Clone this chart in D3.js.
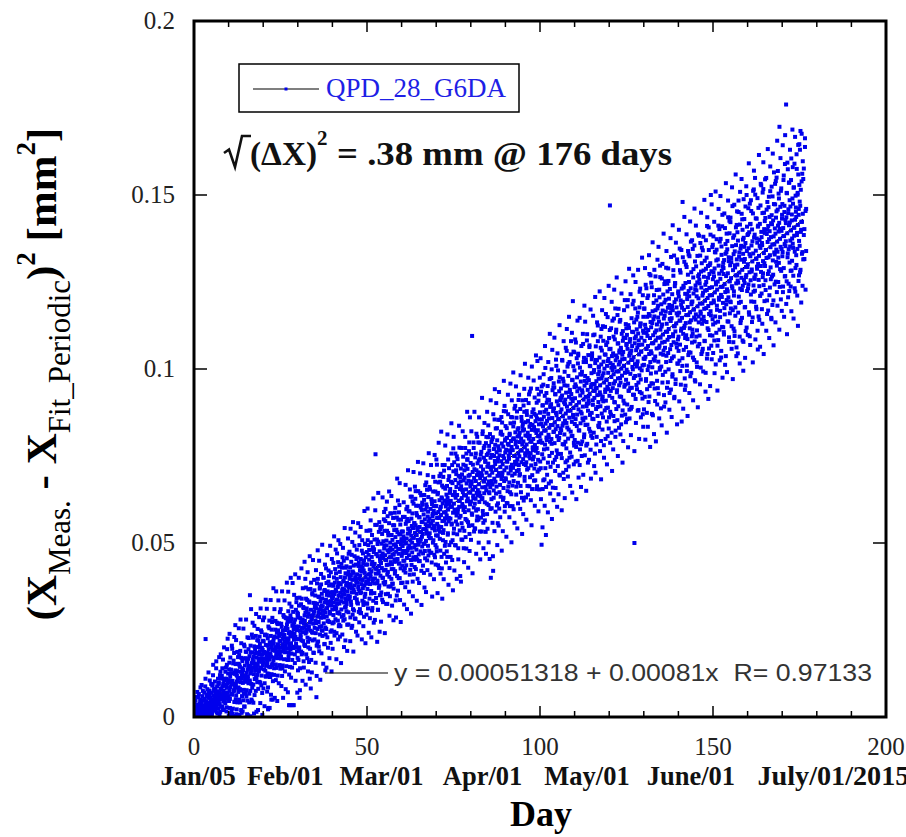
<!DOCTYPE html>
<html>
<head>
<meta charset="utf-8">
<script src="https://cdn.jsdelivr.net/npm/d3@7/dist/d3.min.js"></script>
<style>
  body { margin: 0; background: #fff; }
  svg { display: block; }
</style>
</head>
<body>
<svg id="chart"></svg>
<script>
// ---- data ----
const xTicks = [0, 50, 100, 150, 200];
const xMinorTicks = [10, 20, 30, 40, 60, 70, 80, 90, 110, 120, 130, 140, 160, 170, 180, 190];
const yTicks = [0, 0.05, 0.1, 0.15, 0.2];
const yTickLabels = ["0", "0.05", "0.1", "0.15", "0.2"];
const dateLabels = ["Jan/05", "Feb/01", "Mar/01", "Apr/01", "May/01", "June/01", "July/01/2015"];
const dateDays = [1.2, 26.4, 54.2, 83.4, 113.6, 143.6, 184.8];
const fitIntercept = 0.00051318;
const fitSlope = 0.00081;
const fitR = 0.97133;
const fitDays = [0, 176];
const seriesName = "QPD_28_G6DA";

// samples per day (index = day), units of 1e-4 mm^2 -- first pass
const dayValuesA = [
  "14 0 42 6 21 3 58 10 1 30 17 72",
  "35 8 0 19 66 4 27 12 49 85 22",
  "11 40 92 27 5 60 18 33 2 47 13 24 70",
  "52 19 7 110 37 26 3 64 14 80 31",
  "4 55 128 23 40 9 76 62 31 46 18 35 95",
  "70 33 12 50 95 21 150 42 28 80 58 46",
  "102 18 66 40 140 29 55 88 10 74 48",
  "25 45 98 172 71 36 58 15 130 82 64 52 110",
  "118 30 88 60 165 45 75 20 105 92 54 68",
  "40 62 142 110 28 84 195 96 70 125 55",
  "106 46 156 76 26 116 86 0 136 96 66 126",
  "64 104 24 154 94 74 184 44 124 84 134",
  "152 92 62 122 22 102 132 42 112 172 72 82 112",
  "50 150 110 80 190 100 130 20 170 120 60 140",
  "128 98 48 168 78 208 118 30 148 108 68 188",
  "107 187 77 127 157 47 137 117 167 97 227 147 67",
  "175 105 145 75 205 125 310 95 155 135 45 185 165",
  "143 93 173 123 203 63 153 183 133 233 113",
  "111 171 141 221 121 151 201 81 161 131 181 101 231",
  "189 99 159 139 249 169 119 199 69 179 149 219",
  "157 217 137 187 97 167 237 117 207 147 177",
  "235 155 185 125 205 85 26 175 195 145 255 165 215 115",
  "143 183 233 173 50 123 203 273 153 193 103 213 163",
  "211 121 231 171 191 251 151 201 181 141 271",
  "169 229 119 209 249 189 199 269 149 219 179 239 139",
  "218 168 268 188 238 118 208 148 248 228 198 288",
  "166 236 216 186 286 206 256 146 226 266 196",
  "254 214 164 304 224 184 34 244 204 284 144 234 194 274",
  "212 282 182 242 142 262 34 232 302 202 252 222 272",
  "240 180 280 230 260 210 330 200 250 300 170",
  "296 224 164 260 320 200 55 248 140 284 236 272 188",
  "220 340 256 184 280 244 316 160 268 208 292",
  "276 204 300 240 372 180 264 312 252 336 228 288 216",
  "200 296 260 332 224 110 272 368 248 308 164 284",
  "280 244 352 220 292 268 328 184 304 364 256 316",
  "349 277 241 313 57 205 325 289 253 397 217 301",
  "273 345 189 309 369 237 297 333 285 381 261 321 249",
  "341 233 317 293 401 269 305 209 365 329 257",
  "301 337 253 385 289 313 229 361 325 277 421 349",
  "405 273 321 297 357 213 333 381 249 345 309",
  "269 341 377 293 329 401 245 353 317 425 281 365",
  "361 313 241 397 325 337 373 277 445 301 349 385 265",
  "297 417 357 261 381 333 309 345 429 237 369",
  "353 389 293 449 329 365 281 401 341 413 317 377",
  "433 325 385 265 361 409 349 301 469 373 337 397",
  "346 430 286 382 406 322 370 466 358 262 394 418 310",
  "414 366 306 378 462 342 402 282 438 390 354",
  "338 410 386 458 326 374 434 302 398 494 362 422",
  "406 298 454 358 418 382 478 394 334 430 370 442 322",
  "330 450 378 414 498 354 402 438 390 294 474",
  "438 368 508 312 410 466 396 480 340 424 382 536",
  "404 502 362 418 460 306 446 390 488 334 432 474",
  "482 356 440 398 552 755 412 328 468 426 510 384",
  "392 462 308 504 420 532 434 378 476 350 448 406 546",
  "442 358 498 428 526 400 470 330 456 386 568 484",
  "493 381 465 563 423 353 451 507 437 535 325 479",
  "417 529 375 473 557 403 459 347 501 487 445 585",
  "397 523 439 383 481 467 551 425 369 495 537 453",
  "587 419 517 335 489 475 447 573 405 531 503 363",
  "567 469 441 525 609 399 483 553 427 497 385 511",
  "463 505 435 491 533 477 519 421 505 449 575 477",
  "499 415 555 471 597 513 457 387 569 527 485 541",
  "563 465 493 591 409 535 507 633 451 521 437 549",
  "501 585 389 543 459 613 515 487 557 431 529 627",
  "551 425 607 481 523 579 453 537 509 649 495 467",
  "448 574 546 504 644 476 602 532 420 560 518 616",
  "610 526 470 540 582 414 638 498 568 456 596 554",
  "506 674 534 604 450 548 576 492 632 562 520 478",
  "570 528 654 472 598 514 556 626 444 612 542 584",
  "564 648 508 592 550 466 620 536 676 494 606 522",
  "606 487 725 555 640 521 436 589 674 538 572 623",
  "512 597 478 699 580 546 631 427 665 563 614 529",
  "690 537 588 469 622 724 571 656 503 605 554 639",
  "579 664 460 630 528 596 681 562 715 494 613 647",
  "655 570 621 502 757 553 604 451 672 638 587 706",
  "528 613 732 596 647 494 681 630 562 698 579 749",
  "638 553 587 723 485 672 621 604 774 536 655 689",
  "578 714 663 510 629 697 612 544 646 748 595 680",
  "637 535 688 603 773 569 722 654 484 671 620 739",
  "713 628 560 679 594 764 645 526 696 611 662 730",
  "619 755 670 585 1095 551 704 653 636 789 602 687",
  "712 542 661 746 627 678 593 814 644 695 576 729",
  "652 703 567 737 669 618 788 533 686 635 754 720",
  "762 626 694 660 813 592 711 558 677 745 643 779",
  "617 685 736 532 787 651 702 753 583 719 668 804",
  "728 609 677 779 643 694 813 660 745 400 711 626",
  "600 753 702 668 804 420 719 651 770 685 855 736",
  "727 676 829 642 710 761 608 795 693 557 744 778",
  "769 701 599 752 854 667 718 633 820 735 684 786",
  "692 811 726 624 777 658 879 743 709 590 794 760",
  "836 683 768 717 615 802 734 649 785 870 700 751",
  "742 674 810 606 759 844 708 793 640 776 725 861",
  "665 767 716 835 597 801 750 886 699 733 818 784",
  "792 639 860 707 775 741 826 673 758 911 724 809",
  "749 817 698 885 664 766 800 732 851 630 783 834",
  "843 741 792 622 826 877 690 775 758 809 724 911",
  "732 783 868 766 664 817 851 715 902 800 749 834",
  "808 689 842 757 944 723 791 825 655 876 774 740",
  "799 884 748 833 714 918 782 680 850 765 867 816",
  "773 858 943 705 824 739 909 790 841 654 807 875",
  "875 795 715 935 815 495 855 755 895 655 835 955",
  "743 863 823 683 923 783 1003 843 523 883 803 903",
  "851 771 951 731 871 811 671 911 831 971 791 891",
  "719 839 899 799 999 759 859 939 659 879 819 959",
  "887 947 787 847 707 927 827 1027 747 867 907 807",
  "836 756 996 896 796 856 936 696 976 816 876 916",
  "944 824 884 744 924 1024 784 864 844 964 684 904",
  "812 992 852 912 732 872 932 772 1052 892 832 952",
  "880 800 980 720 920 860 1020 940 760 900 820 1080",
  "928 748 848 968 808 908 868 1008 888 788 1048 948",
  "796 916 956 856 1076 776 896 836 976 936 736 1016",
  "1044 884 824 904 944 724 1004 924 844 964 784 984",
  "872 992 792 932 892 1072 852 912 1032 812 952 752",
  "980 860 920 1020 780 960 900 1100 840 940 880 1040",
  "908 968 828 1068 928 868 1008 768 948 808 988 1028",
  "1037 857 957 897 1097 937 817 997 917 957 757 1017",
  "945 1065 885 965 805 1025 925 865 1125 985 905 1005",
  "833 993 1033 933 953 893 1093 793 1013 973 1053 913",
  "981 921 861 1081 1021 781 961 1001 881 1121 941 1041",
  "909 1069 969 849 1009 949 1149 889 989 1029 829 1089",
  "1057 957 1470 877 1017 937 1117 977 817 1037 917 997",
  "945 1045 865 985 1145 905 1005 1085 965 805 1025 1105",
  "1113 993 933 1033 853 1073 973 893 1173 1013 953 1053",
  "921 1021 1141 961 1061 841 1001 1101 981 1041 881 1081",
  "1049 909 1009 1169 949 1029 989 869 1089 1129 969 1069",
  "998 1098 898 1058 1198 958 1018 938 1118 1038 858 1078",
  "1086 986 1046 886 1026 1146 946 1066 1006 1186 926 1106",
  "1034 974 1134 500 1074 1014 1174 914 1094 1054 954 1114",
  "942 1062 1022 1162 1102 882 1082 1042 982 1222 1002 1122",
  "1130 970 1050 1090 930 1190 1070 1010 870 1110 1150 1030",
  "1012 1173 1081 920 1127 1035 1242 966 1058 1104 874 1150",
  "1204 997 1066 1112 905 1158 1043 1273 951 1089 1020 1135",
  "1051 1120 959 1235 1074 1005 1166 867 1097 1143 1028 1212",
  "1151 944 1105 1036 1266 1082 990 1197 1059 1128 898 1174",
  "1090 1182 1021 929 1136 1228 1067 998 1297 1113 1044 1159",
  "1007 1122 1260 1076 961 1168 1099 1214 1053 1145 892 1191",
  "1153 1061 992 1199 1107 1291 1038 1130 946 1245 1084 1176",
  "1046 1253 1115 1092 1184 931 1230 1161 1023 1138 1322 1069",
  "1146 1031 1215 985 1169 1100 1284 1077 1123 916 1192 1238",
  "1246 1108 970 1200 1131 1177 1062 1315 1016 1154 1085 1223",
  "1093 1208 1162 1024 1346 1070 1139 1277 955 1185 1116 1231",
  "1147 1009 1480 1193 1101 1239 1055 1170 1308 1124 940 1216",
  "1247 1132 1063 1155 1293 994 1201 1086 1178 1339 1040 1224",
  "1048 1209 1324 1117 1163 979 1232 1140 1278 1186 1094 1370",
  "1194 1102 1033 1263 1217 1171 1148 1355 1079 1309 964 1240",
  "1157 1295 1226 1019 1111 1249 1180 1065 1387 1203 1134 1272",
  "1257 1096 1188 1326 1165 1004 1280 1234 1142 1349 1050 1211",
  "1058 1219 1380 1150 1265 1173 1081 1311 1196 1242 989 1288",
  "1250 1135 1227 1411 1043 1204 1296 1181 1112 1342 1158 1273",
  "1212 1097 1304 1166 1500 1189 1281 1028 1235 1350 1143 1258",
  "1128 1381 1197 1266 1082 1289 1220 1151 1335 1013 1243 1312",
  "1343 1182 1228 1067 1251 1136 1412 1297 1205 1274 1113 1366",
  "1167 1259 1374 1213 1052 1328 1282 1121 1443 1236 1190 1305",
  "1290 1106 1313 1175 1244 1405 1221 1359 1037 1267 1336 1198",
  "1229 1344 1137 1275 1436 1206 1321 1091 1252 1390 1160 1298",
  "1422 1192 1261 1307 1123 1238 1353 1468 1169 1284 1077 1330",
  "1223 1384 1108 1338 1292 1177 1269 1407 1246 1062 1315 1453",
  "1300 1254 1369 1162 1484 1208 1323 1277 1093 1415 1231 1346",
  "1193 1354 1262 1446 1147 1285 1400 1239 1331 1078 1377 1308",
  "1431 1247 1316 1178 1362 1109 1293 1270 1500 1339 1224 1385",
  "1301 1232 1462 1347 1163 1393 1278 1094 1416 1324 1255 1485",
  "1194 1355 1286 1401 1309 1148 1447 1332 1240 1516 1378 1263",
  "1386 1225 1501 1271 1340 1179 1317 1432 1294 1363 1110 1409",
  "1302 1463 1256 1325 1141 1371 1417 1210 1348 1532 1279 1394",
  "1379 1172 1356 1448 1264 1310 1517 1241 1333 1402 1195 1425",
  "1296 1434 1227 1342 1549 1319 1388 1158 1480 1365 1273 1411",
  "1465 1281 1373 1212 1396 1327 1511 1350 1258 1419 1143 1442",
  "1266 1358 1496 1312 1427 1197 1381 1565 1335 1243 1404 1473",
  "1389 1251 1435 1343 1550 1297 1366 1182 1458 1412 1320 1504",
  "1305 1420 1696 1236 1374 1466 1351 1512 1282 1397 1167 1443",
  "1474 1336 1221 1405 1543 1290 1382 1451 1359 1589 1267 1428",
  "1367 1760 1436 1252 1505 1390 1321 1574 1206 1459 1344 1413",
  "1536 1306 1421 1352 1467 1237 1398 1605 1283 1444 1375 1490",
  "1360 1475 1268 1521 1406 1383 1590 1337 1429 1222 1498 1452",
  "1437 1299 1575 1391 1345 1506 1414 1644 1253 1460 1368 1529",
  "1354 1630 1469 1285 1515 1400 1423 1676 1331 1561 1239 1446",
  "1546 1385 1316 1638 1454 1339"
];

// second pass of samples per day, same units (the wider scatter)
const dayValuesB = [
  "2 25 9 48 0 16 5 33",
  "20 4 57 11 0 38 15 7 29",
  "8 44 0 26 75 16 3 52",
  "33 12 88 224 4 45 21 60 9 38",
  "17 70 40 2 105 28 55 12",
  "48 8 90 36 120 20 62 30 75",
  "24 82 50 160 14 66 38 110",
  "95 40 66 8 120 52 180 30 78",
  "58 140 22 96 70 200 44 110",
  "130 52 88 16 150 70 225 100 60",
  "4 137 239 52 171 10 103 18 205",
  "196 9 94 3 162 77 230 43 128 264",
  "51 221 8 119 187 0 153 85 255",
  "178 6 144 42 280 76 212 12 110 161",
  "16 135 254 67 30 203 118 101 169",
  "280 59 161 8 229 110 5 195 144 42",
  "101 350 2 186 135 50 237 84 271",
  "228 41 160 10 262 109 194 143 75 296",
  "15 185 100 253 20 219 134 287 168",
  "210 40 312 142 91 244 159 6 193 278",
  "82 184 286 31 235 133 337 116 167",
  "311 73 158 226 22 260 124 175 277 26 209",
  "115 336 64 200 251 149 285 50 217 370",
  "225 140 310 55 191 276 106 361 174 242",
  "46 267 182 335 97 233 148 301 199",
  "310 174 89 259 361 140 225 55 293 191",
  "199 335 131 250 80 284 216 386 165",
  "275 71 360 173 241 122 326 207 34 292 400",
  "113 317 232 164 385 198 266 34 351",
  "257 155 410 104 308 223 342 189 70 291",
  "134 286 400 191 343 77 248 229 324",
  "427 180 275 104 370 218 313 142 256 446",
  "207 397 93 340 245 302 169 416 131",
  "367 253 158 329 462 196 272 82 386 291",
  "128 356 242 451 185 299 394 223 318",
  "327 156 422 270 118 384 213 479 289 346",
  "202 449 259 373 107 316 411 183 354",
  "495 248 305 153 400 286 362 210 438 134",
  "237 427 142 351 465 275 199 389 332",
  "378 169 302 492 245 416 321 131 454 359",
  "196 348 443 272 519 234 386 310 481",
  "413 166 337 470 299 375 223 508 261 432",
  "326 231 497 402 155 440 288 364 459",
  "486 277 391 201 353 543 315 220 429 334",
  "304 456 190 380 513 266 418 342 475",
  "408 218 541 332 446 256 370 503 294 560",
  "188 435 359 492 283 530 397 245 454",
  "481 329 234 386 557 367 443 272 519 310",
  "356 546 299 432 223 508 394 470 261",
  "421 288 592 345 497 212 459 383 535 326",
  "326 599 389 494 242 452 536 284 410",
  "565 355 229 439 523 313 481 397 628 271",
  "384 510 279 594 426 342 468 552 216",
  "497 308 644 413 371 560 245 455 539 350",
  "274 463 547 337 631 400 505 421 589",
  "535 241 388 598 451 325 493 619 409 577",
  "354 522 438 648 291 480 585 375 459",
  "635 425 320 509 383 572 278 467 551 446",
  "412 601 496 286 538 349 685 454 622",
  "483 399 588 441 672 336 525 273 567 504",
  "533 470 386 575 449 617 323 512 428",
  "373 667 499 436 562 310 604 478 709 541",
  "591 360 528 654 423 486 297 570 633",
  "473 620 347 515 704 410 557 452 662 494",
  "649 460 586 334 544 397 733 502 607",
  "385 574 448 700 532 511 637 322 595 490",
  "561 435 729 498 624 372 477 666 540",
  "359 611 527 653 422 695 590 464 758 548",
  "661 514 409 556 724 472 619 346 577",
  "501 690 606 396 543 753 459 648 438 585",
  "740 476 572 356 644 548 788 428 692",
  "532 676 412 604 820 460 628 340 724 508",
  "660 396 708 564 492 780 588 444 612",
  "476 620 812 524 740 380 572 692 428 644",
  "604 460 676 844 556 724 508 364 772",
  "805 541 421 637 589 757 493 709 661 397",
  "525 741 597 453 693 837 573 621 405",
  "677 389 773 557 653 509 821 605 725 485",
  "445 709 589 805 517 637 757 565 877",
  "741 621 429 693 549 789 477 861 645 669",
  "509 821 677 581 413 725 629 773 533",
  "877 613 541 661 757 469 709 565 805 637",
  "597 789 501 861 645 741 453 693 573",
  "701 533 917 629 821 581 485 773 677 845",
  "565 733 661 469 805 613 877 541 757",
  "838 502 646 766 454 718 598 910 670 790",
  "678 798 558 462 870 630 750 534 942",
  "782 590 710 902 662 830 494 734 614 854",
  "550 934 646 766 574 814 694 862 478",
  "846 702 534 750 630 966 678 894 606 798",
  "686 878 518 830 734 614 926 662 782",
  "766 574 814 646 958 718 862 502 910 694",
  "606 798 990 678 846 558 750 894 726",
  "950 662 734 878 542 806 614 830 710 926",
  "694 790 598 982 646 862 766 526 910",
  "823 583 895 727 943 679 1015 751 847 631",
  "567 879 711 807 639 975 759 927 663",
  "935 743 791 623 863 551 1007 695 839 767",
  "775 967 679 871 607 823 727 1039 655",
  "903 663 1023 759 807 591 927 711 855 975",
  "734 1031 626 842 950 788 545 896 680",
  "985 769 877 607 1066 715 823 661 931 796",
  "696 912 588 1020 804 858 750 1101 642",
  "893 677 974 785 569 1055 839 731 947 623",
  "820 1090 739 928 658 874 1009 766 604",
  "1045 721 856 640 964 802 1126 694 910 829",
  "756 918 594 1026 837 972 702 1080 783",
  "953 629 899 791 1061 710 845 1115 737 1007",
  "691 1015 826 1150 745 934 664 880 1042",
  "915 807 1104 645 969 1195 861 1050 726 780 996",
  "842 1085 734 950 626 1031 869 1139 788",
  "1039 688 904 823 1147 769 985 877 661 1066",
  "750 939 858 1101 696 1020 804 1182 966",
  "1136 839 1028 650 893 1082 785 974 731 920",
  "901 739 1063 1009 820 1171 685 955 874",
  "1045 802 910 1153 856 991 721 1099 937 1207",
  "702 1026 783 945 1134 891 1080 837 972",
  "1007 845 1223 764 926 1061 683 1115 872 1169",
  "826 1123 907 988 745 1204 1042 934 799",
  "1158 888 969 726 1077 807 1023 942 1239 861",
  "923 1112 788 1058 869 1004 1193 707 1139",
  "1012 769 1093 958 1228 850 904 1174 823 1039",
  "885 1263 939 1155 750 1074 993 831 1047",
  "1136 974 812 1055 920 1217 866 1028 731 1109",
  "793 1090 1009 901 1198 955 1252 847 1117",
  "1072 856 1180 991 775 1126 937 1288 883 1045",
  "945 1215 810 1053 891 1107 1026 999 1269",
  "1196 926 764 1088 980 1250 845 1142 1007",
  "1015 1150 880 1285 961 1069 799 1177 934 1231",
  "1131 861 1050 996 1320 915 1212 834 1104",
  "884 1174 1029 1290 797 1116 971 1232 1058 942",
  "1095 834 1211 1008 1327 921 1153 776 1269",
  "987 1248 1045 871 1132 1364 958 1074 1190 813",
  "1285 1024 908 1169 792 1111 1227 966 1314",
  "945 1148 1351 1061 858 1206 1003 1264 1090 887",
  "1186 838 1128 1302 983 1041 1389 925 1244",
  "1078 1252 904 1165 1020 1339 817 1107 1223 962",
  "1289 999 1202 883 1144 1057 1376 941 1173",
  "862 1181 978 1413 1094 1268 1036 1326 920 1123",
  "1247 957 1363 1073 1160 841 1305 1015 1218",
  "1052 1400 907 1139 1284 994 1197 1110 1342 849",
  "1176 1031 1321 886 1234 1118 1437 973 1089",
  "952 1300 1097 1387 1010 1213 865 1271 1155 1329",
  "1250 931 1134 1424 1047 1366 989 1192 1076",
  "1113 1345 910 1287 1171 1026 1461 968 1229 1142",
  "1412 1093 1209 1006 1325 890 1267 1151 1383",
  "1072 1246 956 1362 1159 1449 1043 1304 1130 1188",
  "1341 993 1283 1138 1486 1080 1225 935 1370",
  "1175 1320 1030 1436 1117 1262 914 1407 1059 1233",
  "1299 951 1386 1154 1067 1473 1212 1096 1357",
  "1046 1278 1191 1423 988 1336 1133 1510 1249 1104",
  "1373 1170 938 1315 1083 1460 1199 1402 1025",
  "1149 1497 1236 1033 1352 1207 1410 975 1294 1120",
  "1273 1099 1447 1157 1012 1331 1534 1186 1389",
  "991 1368 1223 1484 1136 1310 1078 1426 1252 1194",
  "1435 1174 1319 1058 1522 1232 971 1377 1116",
  "1211 1472 1095 1298 1153 1559 1356 1037 1414 1269",
  "1393 1045 1248 1451 1190 1335 1016 1509 1132",
  "1140 1314 1546 1227 1430 1082 1372 995 1488 1256",
  "1351 1177 1032 1467 1264 1525 1119 1409 1293",
  "1098 1388 1243 1591 1156 1330 1475 1069 1417 1214",
  "1454 1280 1135 1367 1019 1512 1222 1570 1193",
  "1259 1549 1085 1433 1317 1172 1375 1288 1491 1056",
  "1412 1151 1615 1238 1354 1064 1470 1296 1528",
  "1217 1362 1130 1507 1275 1594 1043 1449 1304 1391",
  "1545 1255 1342 1110 1458 1197 1400 1632 1168",
  "1321 1495 1089 1437 1234 1582 1292 1379 1147 1524",
  "1416 1184 1619 1271 1068 1474 1358 1329 1532",
  "1134 1540 1308 1453 1221 1656 1337 1569 1250 1395",
  "1490 1113 1403 1287 1606 1200 1519 1345 1432",
  "1324 1643 1237 1382 1556 1150 1469 1266 1672 1353",
  "1419 1187 1506 1100 1593 1332 1448 1245 1535",
  "1224 1485 1630 1369 1282 1543 1166 1427 1311 1688",
  "1580 1348 1145 1522 1406 1232 1667 1290 1464",
  "1327 1617 1385 1211 1501 1124 1559 1443 1269 1646",
  "1481 1278 1684 1394 1191 1539 1423 1336 1597",
  "1315 1576 1402 1663 1228 1460"
];

// flatten: samples spread evenly through each day
const points = [];
[dayValuesA, dayValuesB].forEach(rows => {
  rows.forEach((row, day) => {
    const vals = row.split(" ").map(Number);
    vals.forEach((v, i) => points.push({ day: day + (i + 0.5) / vals.length, value: v * 1e-4 }));
  });
});

// ---- layout ----
const W = 906, H = 837;
const plot = { left: 194, right: 886, top: 21, bottom: 717 };
const SERIF = "'Liberation Serif', 'Times New Roman', serif";
const SANS = "'Liberation Sans', Arial, sans-serif";
const BLUE = "#0000ec";

const svg = d3.select("#chart").attr("width", W).attr("height", H);

const x = d3.scaleLinear().domain([0, 200]).range([plot.left, plot.right]);
const y = d3.scaleLinear().domain([0, 0.2]).range([plot.bottom, plot.top]);

svg.append("defs").append("clipPath").attr("id", "plotClip")
  .append("rect")
  .attr("x", plot.left).attr("y", plot.top)
  .attr("width", plot.right - plot.left).attr("height", plot.bottom - plot.top);

// fit line (under the points)
svg.append("line")
  .attr("x1", x(fitDays[0])).attr("y1", y(fitIntercept + fitSlope * fitDays[0]))
  .attr("x2", x(fitDays[1])).attr("y2", y(fitIntercept + fitSlope * fitDays[1]))
  .attr("stroke", "#000").attr("stroke-width", 1);

// points
const ms = 4;
svg.append("g").attr("clip-path", "url(#plotClip)")
  .selectAll("rect").data(points).join("rect")
  .attr("x", d => x(d.day) - ms / 2)
  .attr("y", d => y(d.value) - ms / 2)
  .attr("width", ms).attr("height", ms)
  .attr("fill", BLUE);

// ticks inward on all four sides
const axes = svg.append("g").attr("stroke", "#000").attr("stroke-width", 1.5);
const tick = (x1, y1, x2, y2) => axes.append("line").attr("x1", x1).attr("y1", y1).attr("x2", x2).attr("y2", y2);
xTicks.forEach(t => {
  tick(x(t), plot.bottom, x(t), plot.bottom - 11);
  tick(x(t), plot.top, x(t), plot.top + 11);
});
xMinorTicks.forEach(t => {
  tick(x(t), plot.bottom, x(t), plot.bottom - 6);
  tick(x(t), plot.top, x(t), plot.top + 6);
});
yTicks.forEach(t => {
  tick(plot.left, y(t), plot.left + 13, y(t));
  tick(plot.right, y(t), plot.right - 13, y(t));
});

// frame
svg.append("rect")
  .attr("x", plot.left).attr("y", plot.top)
  .attr("width", plot.right - plot.left).attr("height", plot.bottom - plot.top)
  .attr("fill", "none").attr("stroke", "#000").attr("stroke-width", 3);

// tick labels
svg.append("g").selectAll("text").data(xTicks).join("text")
  .attr("x", d => x(d)).attr("y", 755)
  .attr("text-anchor", "middle")
  .attr("font-family", SERIF).attr("font-size", 25).attr("fill", "#222")
  .text(d => d);

svg.append("g").selectAll("text").data(yTicks).join("text")
  .attr("x", 175).attr("y", d => y(d)).attr("dy", "0.33em")
  .attr("text-anchor", "end")
  .attr("font-family", SERIF).attr("font-size", 25).attr("fill", "#222")
  .text((d, i) => yTickLabels[i]);

// date labels under the day axis; the last one runs off the page edge
svg.append("g").selectAll("text").data(dateLabels).join("text")
  .attr("x", (d, i) => x(dateDays[i])).attr("y", 785)
  .attr("text-anchor", "middle")
  .attr("font-family", SERIF).attr("font-size", 26.5).attr("font-weight", "bold").attr("fill", "#111")
  .each(function (d, i) {
    if (i === dateLabels.length - 1) d3.select(this).attr("textLength", 152).attr("lengthAdjust", "spacingAndGlyphs");
  })
  .text(d => d);

svg.append("text")
  .attr("x", 541).attr("y", 826)
  .attr("text-anchor", "middle")
  .attr("font-family", SERIF).attr("font-size", 36).attr("font-weight", "bold")
  .text("Day");

// y axis title
const yTitle = svg.append("text")
  .attr("transform", "translate(56,374) rotate(-90)")
  .attr("text-anchor", "middle")
  .attr("font-family", SERIF).attr("font-size", 43).attr("font-weight", "bold");
yTitle.append("tspan").text("(X");
yTitle.append("tspan").attr("dy", 14).attr("font-size", 31).attr("font-weight", "normal").text("Meas.");
yTitle.append("tspan").attr("dy", -14).text(" - X");
yTitle.append("tspan").attr("dy", 14).attr("font-size", 31).attr("font-weight", "normal").text("Fit_Periodic");
yTitle.append("tspan").attr("dy", -14).text(")");
yTitle.append("tspan").attr("dy", -21).attr("font-size", 27).text("2");
yTitle.append("tspan").attr("dy", 21).text(" [mm");
yTitle.append("tspan").attr("dy", -21).attr("font-size", 27).text("2");
yTitle.append("tspan").attr("dy", 21).text("]");

// legend
svg.append("rect")
  .attr("x", 239).attr("y", 64).attr("width", 280).attr("height", 48)
  .attr("fill", "#fff").attr("stroke", "#000").attr("stroke-width", 1.5);
svg.append("line").attr("x1", 253).attr("x2", 319).attr("y1", 89).attr("y2", 89)
  .attr("stroke", "#000").attr("stroke-width", 1.2);
svg.append("rect").attr("x", 284.5).attr("y", 87.5).attr("width", 3).attr("height", 3).attr("fill", BLUE);
svg.append("text")
  .attr("x", 326).attr("y", 97)
  .attr("font-family", SERIF).attr("font-size", 27).attr("fill", "#1f1fe6")
  .text(seriesName);

// annotation: rms displacement
svg.append("path")
  .attr("d", "M224,153 L229,149.5 L235,167 L242,136 L251,136")
  .attr("fill", "none").attr("stroke", "#111").attr("stroke-width", 2.6).attr("stroke-linejoin", "miter");
svg.append("text")
  .attr("x", 250).attr("y", 165)
  .attr("font-family", SERIF).attr("font-size", 34).attr("font-weight", "bold").attr("fill", "#111")
  .attr("textLength", 67).attr("lengthAdjust", "spacingAndGlyphs")
  .text("(\u0394X)");
svg.append("text")
  .attr("x", 317).attr("y", 145)
  .attr("font-family", SERIF).attr("font-size", 21).attr("font-weight", "bold").attr("fill", "#111")
  .text("2");
svg.append("text")
  .attr("x", 337).attr("y", 165)
  .attr("font-family", SERIF).attr("font-size", 34).attr("font-weight", "bold").attr("fill", "#111")
  .attr("textLength", 335).attr("lengthAdjust", "spacingAndGlyphs")
  .text("= .38 mm @ 176 days");

// fit legend
svg.append("line").attr("x1", 325).attr("x2", 388).attr("y1", 673).attr("y2", 673)
  .attr("stroke", "#000").attr("stroke-width", 1.2);
svg.append("text")
  .attr("x", 394).attr("y", 681)
  .attr("font-family", SANS).attr("font-size", 24).attr("fill", "#333")
  .style("white-space", "pre")
  .attr("textLength", 478).attr("lengthAdjust", "spacingAndGlyphs")
  .text(`y = ${fitIntercept} + ${fitSlope}x  R= ${fitR}`);
</script>
</body>
</html>
